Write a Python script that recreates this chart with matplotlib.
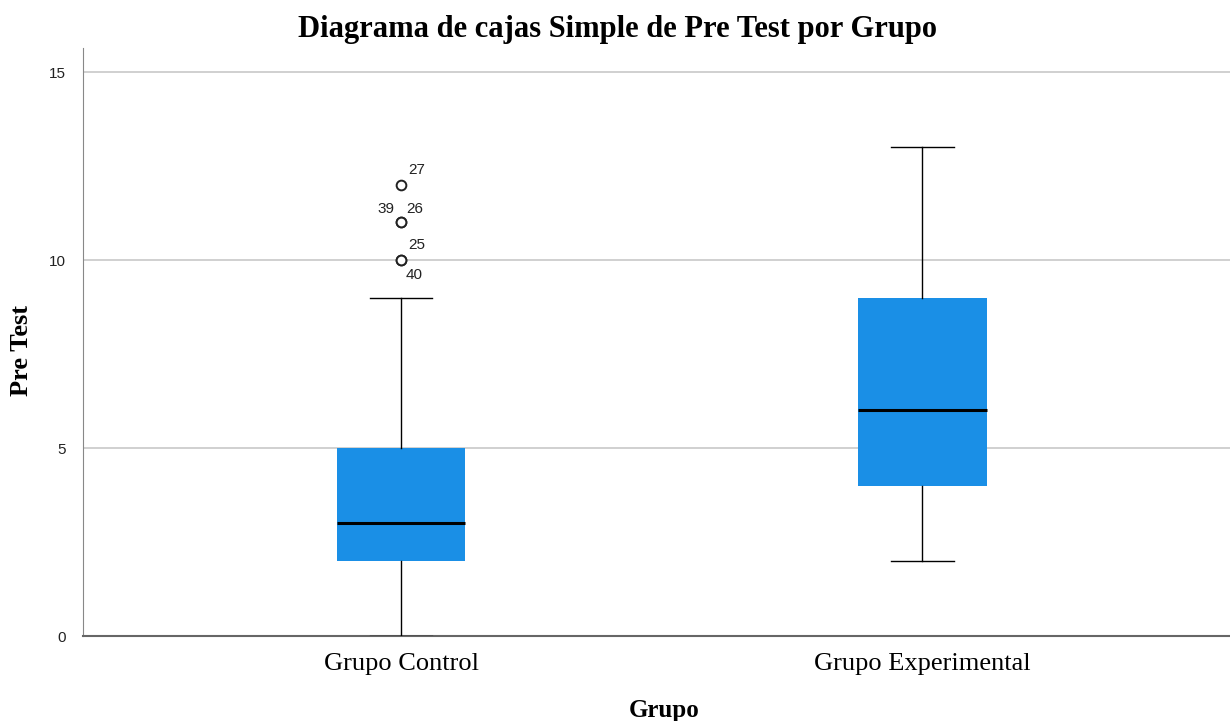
import matplotlib
matplotlib.use("Agg")
import matplotlib.pyplot as plt

categories = ["Grupo Control", "Grupo Experimental"]
whisker_low = [0, 2]
q1 = [2, 4]
median = [3, 6]
q3 = [5, 9]
whisker_high = [9, 13]
outlier_group = [0, 0, 0, 0, 0]
outlier_values = [12, 11, 11, 10, 10]
outlier_ids = ["27", "39", "26", "25", "40"]
yticks = [0, 5, 10, 15]

fig = plt.figure(figsize=(12.3, 7.21), dpi=100)
ax = fig.add_axes([83/1230, 1-636/721, 1-83/1230, (636-48)/721])

stats = []
for i, c in enumerate(categories):
    fl = [v for g, v in zip(outlier_group, outlier_values) if g == i]
    stats.append(dict(label=c, whislo=whisker_low[i], q1=q1[i], med=median[i],
                      q3=q3[i], whishi=whisker_high[i], fliers=fl))

ax.bxp(stats, positions=[1, 2], widths=0.246, patch_artist=True,
       boxprops=dict(facecolor="#1a8fe6", edgecolor="#1a8fe6", linewidth=0),
       medianprops=dict(color="black", linewidth=2.2),
       whiskerprops=dict(color="black", linewidth=1.0),
       capprops=dict(color="black", linewidth=1.0),
       capwidths=0.12,
       flierprops=dict(marker="o", markersize=7, markerfacecolor="white",
                       markeredgecolor="#222222", markeredgewidth=1.4),
       zorder=3)

# outlier labels
offsets = {"27": (5, 11, "left"), "39": (-5, 10, "right"), "26": (3.5, 10, "left"),
           "25": (5, 11, "left"), "40": (3, -11, "left")}
for g, v, lab in zip(outlier_group, outlier_values, outlier_ids):
    dx, dy, ha = offsets[lab]
    ax.annotate(lab, (g + 1, v), xytext=(dx, dy), textcoords="offset points",
                ha=ha, va="center", fontsize=11, family="Liberation Sans",
                color="#222222")

ax.set_xlim(0.39, 2.59)
ax.set_ylim(0, 15.64)
ax.set_yticks(yticks)
ax.set_yticklabels([str(t) for t in yticks], family="Liberation Sans",
                   fontsize=11, color="#222222")
ax.set_xticks([1, 2])
ax.set_xticklabels(categories, family="Liberation Serif", fontsize=19,
                   color="black")
ax.tick_params(axis="both", length=0)
ax.tick_params(axis="x", pad=12)
ax.tick_params(axis="y", pad=12)
ax.yaxis.grid(True, color="#c8c8c8", linewidth=1.2, zorder=0)
ax.set_axisbelow(True)
for s in ["top", "right"]:
    ax.spines[s].set_visible(False)
ax.spines["left"].set_color("#888888")
ax.spines["bottom"].set_color("#666666")
ax.spines["bottom"].set_linewidth(1.5)

ax.set_ylabel("Pre Test", family="Liberation Serif", fontweight="bold",
              fontsize=19, va="center")
ax.yaxis.set_label_coords((22-83)/1147, (636-350)/588)
ax.set_xlabel("Grupo", family="Liberation Serif", fontweight="bold",
              fontsize=18, va="center")
ax.xaxis.set_label_coords((664-83)/1147, (636-711)/588)
fig.text(617/1230, 1-30/721, "Diagrama de cajas Simple de Pre Test por Grupo",
         ha="center", va="center", family="Liberation Serif",
         fontweight="bold", fontsize=22)

fig.savefig("out.png", dpi=100)
